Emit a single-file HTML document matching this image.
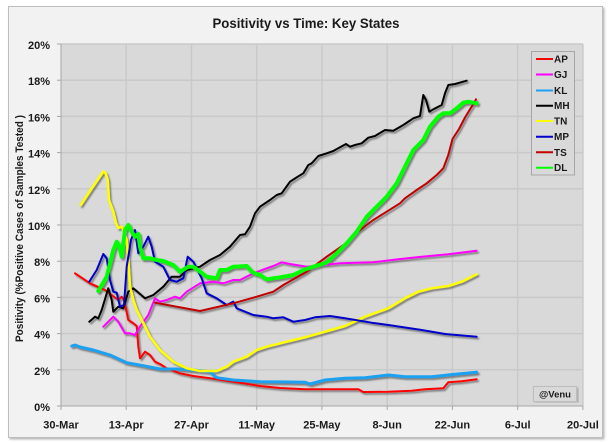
<!DOCTYPE html>
<html>
<head>
<meta charset="utf-8">
<style>
  html,body{margin:0;padding:0;background:#ffffff;}
  svg{display:block;}
  text{font-family:"Liberation Sans",sans-serif;font-weight:bold;fill:#1a1a1a;}
</style>
</head>
<body>
<svg width="610" height="443" viewBox="0 0 610 443" xmlns="http://www.w3.org/2000/svg">
  <defs>
    <filter id="sh" x="-5%" y="-5%" width="110%" height="110%">
      <feDropShadow dx="1.6" dy="1.8" stdDeviation="0.9" flood-color="#333" flood-opacity="0.55"/>
    </filter>
    <filter id="bsh" x="-5%" y="-5%" width="110%" height="110%">
      <feDropShadow dx="1.5" dy="1.5" stdDeviation="1" flood-color="#888" flood-opacity="0.6"/>
    </filter>
  </defs>

  <!-- chart area -->
  <rect x="8.5" y="6.5" width="594" height="431" fill="#f2f2f2" stroke="#bdbdbd" stroke-width="1" filter="url(#bsh)"/>

  <!-- title -->
  <text x="306" y="28" font-size="14" text-anchor="middle" textLength="187" lengthAdjust="spacingAndGlyphs">Positivity vs Time: Key States</text>

  <!-- plot area -->
  <rect x="61" y="44" width="522" height="362" fill="#d9d9d9"/>

  <!-- horizontal gridlines -->
  <g stroke="#c9c9c9" stroke-width="1.5">
    <line x1="61" y1="44" x2="583" y2="44"/>
    <line x1="61" y1="80.2" x2="583" y2="80.2"/>
    <line x1="61" y1="116.4" x2="583" y2="116.4"/>
    <line x1="61" y1="152.6" x2="583" y2="152.6"/>
    <line x1="61" y1="188.8" x2="583" y2="188.8"/>
    <line x1="61" y1="225" x2="583" y2="225"/>
    <line x1="61" y1="261.2" x2="583" y2="261.2"/>
    <line x1="61" y1="297.4" x2="583" y2="297.4"/>
    <line x1="61" y1="333.6" x2="583" y2="333.6"/>
    <line x1="61" y1="369.8" x2="583" y2="369.8"/>
  </g>
  <!-- vertical gridlines -->
  <g stroke="#c9c9c9" stroke-width="1.5">
    <line x1="126.2" y1="44" x2="126.2" y2="406"/>
    <line x1="191.5" y1="44" x2="191.5" y2="406"/>
    <line x1="256.7" y1="44" x2="256.7" y2="406"/>
    <line x1="321.9" y1="44" x2="321.9" y2="406"/>
    <line x1="387.2" y1="44" x2="387.2" y2="406"/>
    <line x1="452.4" y1="44" x2="452.4" y2="406"/>
    <line x1="517.7" y1="44" x2="517.7" y2="406"/>
    <line x1="582.9" y1="44" x2="582.9" y2="406"/>
  </g>

  <!-- axes -->
  <g stroke="#a6a6a6" stroke-width="1">
    <line x1="61" y1="44" x2="61" y2="406.5"/>
    <line x1="61" y1="406" x2="583" y2="406"/>
    <!-- y ticks -->
    <line x1="57" y1="44" x2="61" y2="44"/>
    <line x1="57" y1="80.2" x2="61" y2="80.2"/>
    <line x1="57" y1="116.4" x2="61" y2="116.4"/>
    <line x1="57" y1="152.6" x2="61" y2="152.6"/>
    <line x1="57" y1="188.8" x2="61" y2="188.8"/>
    <line x1="57" y1="225" x2="61" y2="225"/>
    <line x1="57" y1="261.2" x2="61" y2="261.2"/>
    <line x1="57" y1="297.4" x2="61" y2="297.4"/>
    <line x1="57" y1="333.6" x2="61" y2="333.6"/>
    <line x1="57" y1="369.8" x2="61" y2="369.8"/>
    <line x1="57" y1="406" x2="61" y2="406"/>
    <!-- x ticks -->
    <line x1="61" y1="406" x2="61" y2="410"/>
    <line x1="126.2" y1="406" x2="126.2" y2="410"/>
    <line x1="191.5" y1="406" x2="191.5" y2="410"/>
    <line x1="256.7" y1="406" x2="256.7" y2="410"/>
    <line x1="321.9" y1="406" x2="321.9" y2="410"/>
    <line x1="387.2" y1="406" x2="387.2" y2="410"/>
    <line x1="452.4" y1="406" x2="452.4" y2="410"/>
    <line x1="517.7" y1="406" x2="517.7" y2="410"/>
    <line x1="582.9" y1="406" x2="582.9" y2="410"/>
  </g>

  <!-- y tick labels -->
  <g font-size="11" text-anchor="end">
    <text x="50" y="49">20%</text>
    <text x="50" y="85.2">18%</text>
    <text x="50" y="121.4">16%</text>
    <text x="50" y="157.6">14%</text>
    <text x="50" y="193.8">12%</text>
    <text x="50" y="230">10%</text>
    <text x="50" y="266.2">8%</text>
    <text x="50" y="302.4">6%</text>
    <text x="50" y="338.6">4%</text>
    <text x="50" y="374.8">2%</text>
    <text x="50" y="411">0%</text>
  </g>

  <!-- x tick labels -->
  <g font-size="11" text-anchor="middle">
    <text x="61" y="428.5">30-Mar</text>
    <text x="126.2" y="428.5">13-Apr</text>
    <text x="191.5" y="428.5">27-Apr</text>
    <text x="256.7" y="428.5">11-May</text>
    <text x="321.9" y="428.5">25-May</text>
    <text x="387.2" y="428.5">8-Jun</text>
    <text x="452.4" y="428.5">22-Jun</text>
    <text x="517.7" y="428.5">6-Jul</text>
    <text x="582.9" y="428.5">20-Jul</text>
  </g>

  <!-- y axis title -->
  <text transform="translate(23,228.5) rotate(-90)" font-size="11" text-anchor="middle" textLength="227" lengthAdjust="spacingAndGlyphs">Positivity (%Positive Cases of Samples Tested )</text>

  <!-- series -->
  <g fill="none" stroke-linejoin="round" stroke-linecap="round" filter="url(#sh)">
    <!-- AP -->
    <polyline stroke="#ff0000" stroke-width="2" points="75,273.3 90,283.3 105,290 118.3,300 121.7,296.7 124,300 126,309 128.3,320 133,323 136.7,326 138.3,346.7 140,358.3 142,356 145,351.7 150,355 155,361.7 160,364 166.7,368.3 180,373.3 193.3,376 210,378.3 226.7,380.7 243.3,383.3 260,386 280,388 305,389.3 321.7,389.3 358.3,389.3 363.3,392 388.3,391.7 411.7,390.7 425,389.3 443.3,388.3 448.3,382.3 461.7,381.3 476.7,379.3"/>
    <!-- GJ -->
    <polyline stroke="#ff00ff" stroke-width="2" points="103.3,326.7 108,322 113.3,316.7 118.3,321.7 125,333.3 130,333.3 135,335 140,326.7 148.3,315 155,298.3 160,301.7 166.7,300 175,296.7 180,298.3 186.7,291.7 200,283.3 213.3,281.7 223.3,283.3 233.3,280 240,280 253.3,273.3 266.7,268.3 273.3,266 281.7,262.3 290,264 306.7,266.7 323.3,265 340,263.3 373.3,262.3 398.3,259.3 421.7,256.7 448.3,254.3 476.7,250.7"/>
    <!-- KL -->
    <polyline stroke="#1ea0f0" stroke-width="3" points="71.7,346 75,345 80,347 93.3,350 110,355 126.7,362.7 143.3,365.7 160,369 176.7,369 193.3,370 210,371.7 216.7,377.7 233.3,380 260,381.7 290,382 305,382.3 310,384 325,380 345,378.3 365,377.7 388.3,375 405,376.7 431.7,376.7 455,374.3 476.7,372.3"/>
    <!-- MH -->
    <polyline stroke="#000000" stroke-width="2" points="89.3,321.7 95,316.7 98.3,318.3 101.7,310 108.3,288.3 111.7,300 113.3,311.7 118.3,306.7 123.3,308.3 128.3,291.7 133.3,288.3 145,298.3 153.3,295 163.3,286.7 171.7,276.7 180,276.7 186.7,270 200,266.7 210,260 220,255 230,246.7 240,235 245,234.3 250,226.7 255,213.3 260,206.7 270,200 276.7,195 281.7,193.3 290,181.7 296.7,177.3 303.3,173.3 308.3,165 311.7,163.3 318.3,156 326.7,153.3 333.3,151 340,147.3 346,144 350,146.7 355,145 361.7,143.3 368.3,137.7 375,136 385,130 393.3,130.7 403.3,125 413.3,118.3 420,116 423.3,95 426,100 429.3,111.7 433.3,109.3 441.7,105 445,93.3 448.3,85 455,84 466.7,80.7"/>
    <!-- TN -->
    <polyline stroke="#ffff00" stroke-width="2.5" points="80.7,205 92,188 103.3,171.5 105.5,173 107.7,180 109,200 113.3,211.7 116,223 118.3,228 121.7,226.7 123.3,230 126.7,240 128.3,260 130,286.7 133.3,300 136.7,310 143.3,323 150,336.7 160,350 173.3,361.7 186.7,368.3 200,371 216.7,371 226.7,366.7 233.3,361.7 246.7,356.7 256.7,350 266.7,346.7 286.7,341.7 305,337.3 325,331.7 345,326 365,316.7 388.3,308.3 405,298.3 418.3,291.7 431.7,288.3 448.3,286 461.7,281.7 476.7,274.3"/>
    <!-- MP -->
    <polyline stroke="#0000c8" stroke-width="2" points="89.3,281.7 96.7,270 103.3,254 106.7,258.3 110,280 113.3,291.7 116.7,292.7 120,306.7 124,305 126.7,266.7 131,240 135,230 138.3,253.3 143.3,246.7 148.3,236.7 151.7,246.7 155,261.7 163.3,266.7 170,280 176.7,281.7 183.3,278.3 187.7,256.7 193.3,261.7 201.7,278.3 206.7,293.3 216.7,298.3 226.7,305 233.3,301.7 236.7,308.3 253.3,315 266.7,316.7 273.3,318.3 283.3,317.3 293.3,321.7 305,320 315,317.3 330,316 345,318.3 371.7,322.7 388.3,325 421.7,330 445,334 476.7,336.7"/>
    <!-- TS -->
    <polyline stroke="#c00000" stroke-width="2" points="155,302.7 200,311 233.3,303.3 256.7,296.7 273.3,291.7 283.3,285 306.7,271.7 326.7,256.7 348.3,241.7 353.3,235 373.3,220 400,203.3 405,198.3 416.7,190 426.7,183.3 436.7,175 443.3,168.3 448.3,155 452.5,139 459,129 465,117.5 470.5,108.5 474,103 476,99.3"/>
    <!-- DL -->
    <polyline stroke="#00ff00" stroke-width="4" points="98.3,291 106.7,276.7 113.3,250 116.7,241.7 119.3,246.7 121.7,256.7 125,230 128.3,225 131.7,231.7 135,236.7 138.3,234 140,246.7 143.3,258.3 150,258.3 156.7,260 163.3,261 173.3,265 180,271.7 188.3,266.7 193.3,266.7 200,271.7 206.7,276.7 216.7,278.3 220,270 226.7,270 233.3,266.7 246.7,266 251.7,271.7 255,273.3 260,275 266.7,279.3 280,277.3 293.3,275 303.3,270 313.3,266.7 326.7,262.7 336.7,253.3 346.7,243.3 356.7,231.7 366.7,216.7 376.7,206.7 386.7,196.7 396.7,183.3 403.3,170 413.3,150 423.3,140 430,126.7 438.3,116.7 443.3,113.3 450,113.3 456.7,108.3 463.3,102.7 468.3,101.7 473.3,102.7 476.7,103.3"/>
  </g>

  <!-- legend -->
  <rect x="531.5" y="51.5" width="43" height="123.5" fill="#d9d9d9" stroke="#a6a6a6" stroke-width="1"/>
  <g stroke-width="2">
    <line x1="536" y1="59" x2="553" y2="59" stroke="#ff0000"/>
    <line x1="536" y1="74.5" x2="553" y2="74.5" stroke="#ff00ff"/>
    <line x1="536" y1="90.5" x2="553" y2="90.5" stroke="#1ea0f0"/>
    <line x1="536" y1="105.7" x2="553" y2="105.7" stroke="#000000"/>
    <line x1="536" y1="121" x2="553" y2="121" stroke="#ffff00"/>
    <line x1="536" y1="136.7" x2="553" y2="136.7" stroke="#0000c8"/>
    <line x1="536" y1="152.3" x2="553" y2="152.3" stroke="#c00000"/>
    <line x1="536" y1="167.7" x2="553" y2="167.7" stroke="#00ff00"/>
  </g>
  <g font-size="10">
    <text x="554" y="62.5">AP</text>
    <text x="554" y="78">GJ</text>
    <text x="554" y="94">KL</text>
    <text x="554" y="109.2">MH</text>
    <text x="554" y="124.5">TN</text>
    <text x="554" y="140.2">MP</text>
    <text x="554" y="155.8">TS</text>
    <text x="554" y="171.2">DL</text>
  </g>

  <!-- @Venu box -->
  <rect x="533.5" y="386.5" width="43" height="15" fill="#d9d9d9" stroke="#bdbdbd" stroke-width="1" filter="url(#bsh)"/>
  <text x="555" y="397.5" font-size="9.5" text-anchor="middle">@Venu</text>
</svg>
</body>
</html>
